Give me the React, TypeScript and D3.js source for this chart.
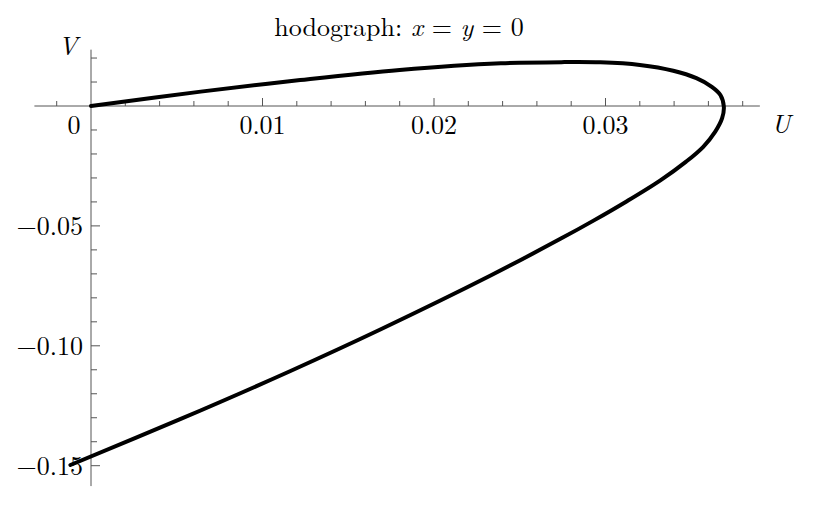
import React from 'react';
import * as d3 from 'd3';

// curve, traced from the origin around the nose and back down
const uValues = [
  0, 0.0064, 0.0122, 0.018, 0.0239, 0.0276, 0.0297, 0.032, 0.03395, 0.0353, 0.0362, 0.0367, 0.0369,
  0.0368, 0.0364, 0.0357, 0.0347, 0.0332, 0.0312, 0.0293, 0.0274, 0.0233, 0.0169, 0.0116, 0.0052, -0.0012,
];
const vValues = [
  0, 0.006, 0.0108, 0.015, 0.0178, 0.0183, 0.0182, 0.0171, 0.0147, 0.0116, 0.008, 0.0046, -0.0003,
  -0.0051, -0.0107, -0.017, -0.0232, -0.031, -0.0399, -0.0478, -0.0553, -0.0707, -0.0931, -0.1106, -0.1306, -0.1497,
];

const xMajorTicks = [0.01, 0.02, 0.03];
const xMajorLabels = ['0.01', '0.02', '0.03'];
const yMajorTicks = [-0.05, -0.1, -0.15];
const yMajorLabels = ['\u22120.05', '\u22120.10', '\u22120.15'];

const xExtent = [-0.0033, 0.039];
const yExtent = [-0.1585, 0.0235];

const width = 832;
const height = 520;
const font = '"Latin Modern Roman", "CMU Serif", "Liberation Serif", serif';

export default function App() {
  const x = d3.scaleLinear().domain([0, 0.03]).range([91, 605.5]);
  const y = d3.scaleLinear().domain([0, -0.15]).range([106, 465.7]);

  const pts: [number, number][] = uValues.map((u, i) => [u, vValues[i]]);
  const line = d3
    .line<[number, number]>()
    .x(d => x(d[0]))
    .y(d => y(d[1]))
    .curve(d3.curveCatmullRom.alpha(0.5));

  const xMinor = d3.range(-0.002, 0.0385, 0.002).filter(t => Math.abs(t) > 1e-9 && !xMajorTicks.some(m => Math.abs(m - t) < 1e-9));
  const yMinor = d3.range(0.02, -0.16, -0.01).filter(t => Math.abs(t) > 1e-9 && !yMajorTicks.some(m => Math.abs(m - t) < 1e-9));

  const x0 = x(0);
  const y0 = y(0);
  const axisColor = '#555';

  return (
    <svg width={width} height={height} style={{ position: 'absolute', left: 0, top: 0, background: '#fff' }}>
      <g fontFamily={font} fontSize={26} fill="#000">
        {/* axes */}
        <line x1={x(xExtent[0])} x2={x(xExtent[1])} y1={y0} y2={y0} stroke={axisColor} strokeWidth={1} />
        <line x1={x0} x2={x0} y1={y(yExtent[1])} y2={y(yExtent[0])} stroke={axisColor} strokeWidth={1} />

        {xMinor.map(t => (
          <line key={'xm' + t} x1={x(t)} x2={x(t)} y1={y0} y2={y0 - 5} stroke={axisColor} />
        ))}
        {xMajorTicks.map((t, i) => (
          <g key={'xM' + t}>
            <line x1={x(t)} x2={x(t)} y1={y0} y2={y0 - 8} stroke={axisColor} />
            <text x={x(t)} y={y0 + 28} textAnchor="middle">{xMajorLabels[i]}</text>
          </g>
        ))}
        <text x={74} y={y0 + 28} textAnchor="middle">0</text>

        {yMinor.map(t => (
          <line key={'ym' + t} x1={x0} x2={x0 + 6} y1={y(t)} y2={y(t)} stroke={axisColor} />
        ))}
        {yMajorTicks.map((t, i) => (
          <g key={'yM' + t}>
            <line x1={x0} x2={x0 + 9} y1={y(t)} y2={y(t)} stroke={axisColor} />
            <text x={83} y={y(t) + 9} textAnchor="end">{yMajorLabels[i]}</text>
          </g>
        ))}

        {/* axis labels */}
        <text x={68} y={55} textAnchor="middle" fontStyle="italic">V</text>
        <text x={781} y={133} textAnchor="middle" fontStyle="italic">U</text>

        {/* title */}
        <text x={399} y={36} textAnchor="middle">
          hodograph: <tspan fontStyle="italic">x</tspan> = <tspan fontStyle="italic">y</tspan> = 0
        </text>

        <path d={line(pts) || ''} fill="none" stroke="#000" strokeWidth={4} strokeLinecap="round" strokeLinejoin="round" />
      </g>
    </svg>
  );
}
